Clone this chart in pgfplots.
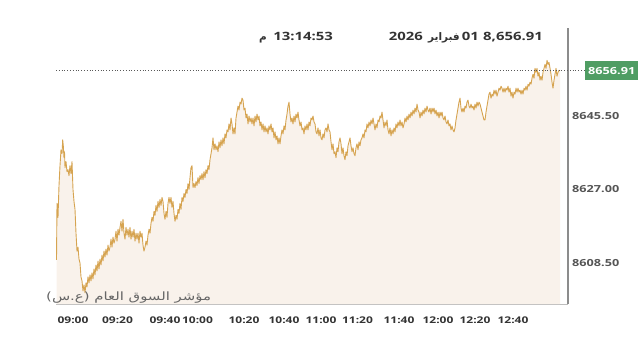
\documentclass[border=0pt]{standalone}
\usepackage{pgfplots}
\usepackage{pgfplotstable}
\pgfplotsset{compat=1.18}
\usepackage{fontspec}
\setmainfont{Open Sans}[FakeStretch=1.3]
\newfontfamily\arabicfont[Script=Arabic,FakeStretch=1.3]{DejaVu Sans}
\newfontfamily\arabictitle[Script=Arabic]{DejaVu Sans}
\TeXXeTstate=1
\definecolor{gold}{HTML}{D6A451}
\definecolor{beige}{HTML}{F9F2EB}
\definecolor{titlegray}{HTML}{333333}
\definecolor{ticklab}{HTML}{555555}
\definecolor{boxgreen}{HTML}{4F9D63}
\definecolor{spine}{HTML}{BDBDBD}
\pgfplotstableread{
x y
56.5 8609.3
57 8623.5
58 8620.0
59 8628.0
60 8633.0
61 8637.0
62 8636.0
62.7 8639.5
63.3 8638.0
64 8635.0
64.5 8636.5
65 8632.5
66 8634.0
67 8631.5
68 8632.0
69 8630.5
70 8633.0
71 8631.0
72 8634.0
73 8627.0
74 8624.0
75 8622.0
76 8616.0
77 8611.5
78 8612.5
79 8609.5
80 8608.5
81 8605.0
82 8604.0
83 8601.5
84 8603.0
85 8601.0
86 8603.5
87 8602.5
88 8605.0
89 8603.5
90 8605.5
91 8604.0
92 8606.0
93 8604.5
94 8607.0
95 8605.5
96 8608.0
97 8606.5
98 8609.0
99 8607.0
100 8609.5
101 8608.0
102 8610.5
103 8609.0
104 8611.5
105 8610.0
106 8612.0
107 8610.5
108 8613.0
109 8611.5
110 8612.5
111 8614.5
112 8612.5
113 8615.0
114 8613.5
115 8614.5
116 8616.5
117 8614.0
118 8617.0
119 8615.5
120 8617.5
121 8619.0
122 8616.5
123 8619.5
124 8616.0
125 8614.5
126 8617.5
127 8615.5
128 8617.0
129 8615.0
130 8617.5
131 8614.5
132 8616.5
133 8615.0
134 8617.0
135 8614.0
136 8616.0
137 8614.5
138 8616.0
139 8613.5
140 8616.5
141 8615.0
142 8616.0
143 8613.0
144 8611.5
145 8612.5
146 8614.0
147 8613.0
148 8615.5
149 8617.0
150 8616.0
151 8618.5
152 8620.0
153 8619.0
154 8621.5
155 8620.5
156 8623.0
157 8621.5
158 8624.0
159 8622.5
160 8624.5
161 8623.0
162 8625.0
163 8624.0
164 8621.0
165 8619.5
166 8621.5
167 8620.0
168 8623.5
169 8625.0
170 8623.5
171 8625.0
172 8622.5
173 8624.0
174 8621.0
175 8619.0
176 8620.5
177 8619.5
178 8622.0
179 8621.0
180 8623.5
181 8622.0
182 8625.0
183 8624.0
184 8626.0
185 8625.0
186 8627.0
187 8626.0
188 8628.5
189 8627.0
190 8630.0
191 8632.5
192 8633.0
193 8627.5
194 8628.5
195 8627.5
196 8629.0
197 8628.0
198 8630.0
199 8628.5
200 8630.5
201 8629.5
202 8631.0
203 8629.5
204 8631.5
205 8630.0
206 8632.0
207 8631.0
208 8633.0
209 8632.0
210 8634.5
211 8636.0
212 8637.5
213 8640.0
214 8637.0
215 8638.5
216 8637.0
217 8638.0
218 8636.5
219 8639.0
220 8637.5
221 8639.5
222 8638.0
223 8640.0
224 8638.5
225 8641.0
226 8640.0
227 8642.0
228 8641.5
229 8643.5
230 8642.0
231 8645.0
232 8643.5
233 8641.0
234 8642.5
235 8641.0
236 8645.0
237 8646.5
238 8648.0
239 8647.0
240 8649.0
241 8648.5
242 8650.0
243 8649.5
244 8647.0
245 8647.5
246 8645.0
247 8646.0
248 8643.5
249 8645.5
250 8644.0
251 8645.0
252 8643.5
253 8645.0
254 8643.0
255 8645.5
256 8644.0
257 8646.0
258 8644.5
259 8645.5
260 8643.0
261 8644.0
262 8642.0
263 8643.5
264 8641.5
265 8643.0
266 8641.5
267 8642.5
268 8641.0
269 8643.0
270 8642.0
271 8643.5
272 8641.5
273 8642.5
274 8640.0
275 8641.5
276 8639.5
277 8640.5
278 8638.5
279 8640.0
280 8638.5
281 8640.5
282 8642.0
283 8641.0
284 8643.0
285 8642.0
286 8644.5
287 8646.0
288 8648.0
289 8649.0
290 8646.0
291 8644.0
292 8645.0
293 8643.5
294 8645.5
295 8644.0
296 8646.0
297 8645.0
298 8646.5
299 8644.5
300 8643.0
301 8644.0
302 8642.0
303 8642.5
304 8641.0
305 8643.0
306 8642.0
307 8643.5
308 8642.0
309 8644.0
310 8643.0
311 8645.0
312 8644.5
313 8645.5
314 8644.0
315 8643.5
316 8641.5
317 8641.0
318 8642.5
319 8640.5
320 8642.0
321 8640.0
322 8639.5
323 8641.0
324 8640.0
325 8642.0
326 8642.5
327 8641.5
328 8643.5
329 8642.0
330 8641.5
331 8639.0
332 8637.0
333 8638.5
334 8636.0
335 8636.5
336 8635.0
337 8637.5
338 8636.5
339 8639.0
340 8640.0
341 8638.5
342 8636.0
343 8637.5
344 8635.5
345 8634.5
346 8636.5
347 8635.5
348 8638.0
349 8639.0
350 8640.0
351 8638.0
352 8636.5
353 8637.5
354 8636.0
355 8635.5
356 8637.5
357 8638.5
358 8637.0
359 8639.0
360 8638.0
361 8639.5
362 8640.0
363 8641.0
364 8640.0
365 8642.0
366 8641.5
367 8643.5
368 8642.5
369 8644.0
370 8643.0
371 8644.5
372 8643.5
373 8645.0
374 8643.5
375 8642.0
376 8643.5
377 8642.5
378 8644.5
379 8644.0
380 8645.5
381 8645.0
382 8646.5
383 8644.5
384 8642.5
385 8644.0
386 8643.0
387 8644.5
388 8642.0
389 8641.0
390 8642.5
391 8640.5
392 8642.0
393 8641.0
394 8642.5
395 8641.5
396 8643.5
397 8642.5
398 8644.0
399 8643.0
400 8644.5
401 8643.0
402 8644.0
403 8642.5
404 8643.5
405 8645.0
406 8644.0
407 8645.5
408 8644.5
409 8646.0
410 8645.0
411 8646.5
412 8645.5
413 8647.0
414 8646.0
415 8647.5
416 8646.5
417 8648.5
418 8647.0
419 8646.5
420 8645.0
421 8646.5
422 8645.5
423 8647.0
424 8646.0
425 8647.5
426 8646.5
427 8648.0
428 8647.0
429 8646.5
430 8647.5
431 8646.0
432 8647.5
433 8646.5
434 8647.5
435 8646.0
436 8647.0
437 8645.5
438 8646.5
439 8645.0
440 8646.5
441 8645.5
442 8646.5
443 8645.0
444 8644.5
445 8645.5
446 8644.0
447 8643.5
448 8644.5
449 8643.0
450 8643.5
451 8642.0
452 8643.0
453 8642.0
454 8641.5
455 8642.5
456 8644.5
457 8646.0
458 8647.5
459 8649.0
460 8650.0
461 8647.5
462 8646.5
463 8647.5
464 8646.5
465 8648.0
466 8647.5
467 8649.0
468 8649.5
469 8648.0
470 8647.5
471 8648.5
472 8647.5
473 8648.0
474 8647.0
475 8648.5
476 8647.5
477 8649.0
478 8648.0
479 8649.0
480 8648.5
481 8647.5
482 8646.5
483 8645.5
484 8644.5
485 8644.5
486 8646.5
487 8648.0
488 8649.5
489 8651.0
490 8651.5
491 8650.0
492 8651.0
493 8650.5
494 8652.0
495 8651.0
496 8652.0
497 8650.5
498 8651.5
499 8652.5
500 8652.0
501 8653.0
502 8652.5
503 8651.5
504 8652.5
505 8651.5
506 8652.5
507 8652.0
508 8653.0
509 8651.5
510 8652.5
511 8650.5
512 8651.5
513 8650.0
514 8651.5
515 8651.0
516 8652.5
517 8651.5
518 8652.5
519 8651.5
520 8652.0
521 8651.0
522 8652.0
523 8651.0
524 8652.5
525 8652.0
526 8653.0
527 8652.0
528 8653.5
529 8653.0
530 8654.0
531 8653.5
532 8655.0
533 8656.0
534 8655.0
535 8657.5
536 8656.5
537 8657.5
538 8655.5
539 8656.5
540 8654.5
541 8655.5
542 8654.5
543 8656.5
544 8657.5
545 8658.5
546 8657.5
547 8659.5
548 8658.5
549 8659.0
550 8657.5
551 8656.0
552 8654.0
553 8652.5
554 8654.5
555 8656.0
556 8657.5
557 8655.5
558 8656.5
559 8657.0
560 8656.91
}\idx
\begin{document}
\begin{tikzpicture}[x=1bp,y=1bp]
\path[use as bounding box] (0,0) rectangle (640,339);
\begin{axis}[
  at={(56bp,35bp)}, anchor=south west,
  width=512bp, height=276bp, scale only axis,
  xmin=56, xmax=568, ymin=8598.18, ymax=8667.65,
  clip=false,
  axis x line*=bottom, axis y line*=right,
  x axis line style={draw=spine, line width=1bp, -},
  y axis line style={draw=black!45, line width=1.2bp, -},
  major tick length=0pt,
  xtick={73,117.5,165,197.5,244,284,321,357.5,399,438,475,513},
  xticklabels={09:00,09:20,09:40,10:00,10:20,10:40,11:00,11:20,11:40,12:00,12:20,12:40},
  xticklabel style={font=\fontsize{9.3}{11}\selectfont\bfseries, text=titlegray, anchor=base, yshift=-19.5bp, inner sep=0pt},
  ytick={8608.5,8627,8645.5},
  yticklabels={8608.50,8627.00,8645.50},
  yticklabel pos=right,
  yticklabel style={font=\fontsize{9.8}{11}\selectfont\bfseries, text=ticklab, anchor=west, inner sep=0pt, xshift=4bp},
]
\addplot[draw=none, fill=beige] table[x=x,y=y] {\idx} |- (axis cs:56,8598.18) -- (axis cs:56.5,8598.18) -- cycle;
\addplot[draw=gold, line width=0.9bp, line join=round] table[x=x,y=y] {\idx};
\draw[black!65, dotted, line width=0.8bp] (axis cs:56,8656.91) -- (axis cs:585,8656.91);
\node[fill=boxgreen, text=white, font=\fontsize{9.8}{11}\selectfont\bfseries, minimum width=53bp, minimum height=19bp, inner sep=0pt, anchor=west] at (axis cs:585,8656.91) {8656.91};
\end{axis}
\begin{scope}[every node/.style={inner sep=0pt, text=titlegray, font=\fontsize{11.5}{13}\selectfont\bfseries}]
\node[anchor=base east] at (543,299) {8,656.91};
\node[anchor=base east] at (479,299) {01};
\node[anchor=base east] at (460,299) {\arabictitle\fontsize{10.5}{12}\selectfont\bfseries فبراير};
\node[anchor=base east] at (423,299) {2026};
\node[anchor=base east] at (333,299) {13:14:53};
\node[anchor=base east] at (267,299) {\arabictitle\fontsize{10.5}{12}\selectfont\bfseries م};
\end{scope}
\node[anchor=base west, inner sep=0pt, text=black!60, font=\fontsize{11.5}{12}\selectfont] at (46,39) {\arabicfont\beginR مؤشر السوق العام (ع.س)\endR};
\end{tikzpicture}
\end{document}
